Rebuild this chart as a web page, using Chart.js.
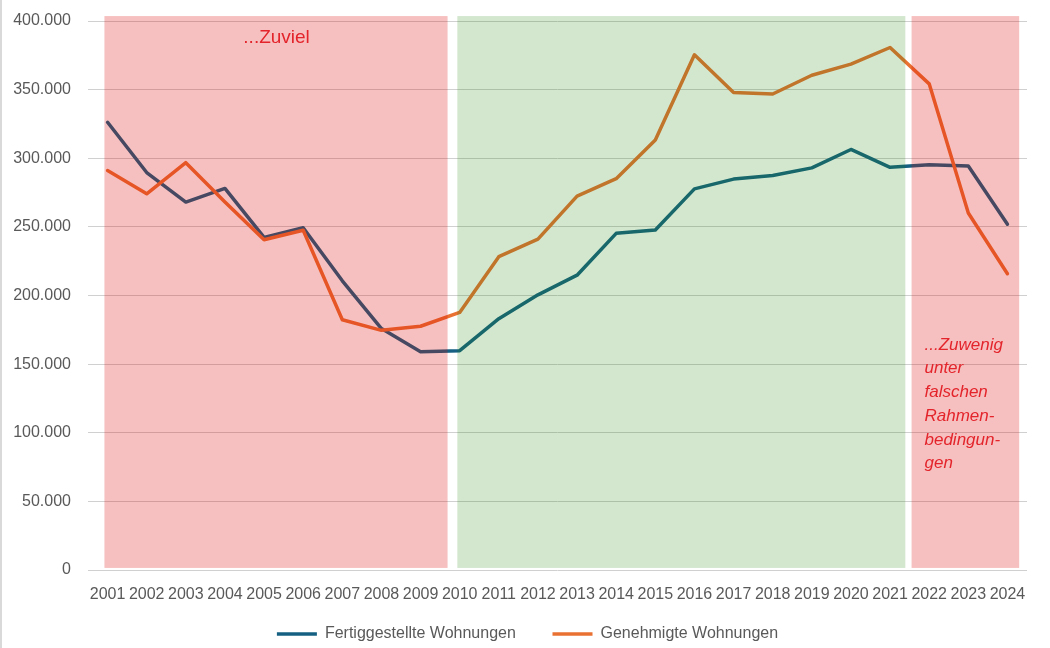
<!DOCTYPE html>
<html>
<head>
<meta charset="utf-8">
<script src="https://cdn.jsdelivr.net/npm/chart.js@4/dist/chart.umd.min.js"></script>
<style>
  html, body { margin: 0; padding: 0; background: #fff; }
  #wrap { width: 1050px; height: 648px; }
</style>
</head>
<body>
<div id="wrap"><canvas id="wohnChart"></canvas></div>
<script>
// Daten (Wohnungen pro Jahr)
var years          = ['2001','2002','2003','2004','2005','2006','2007','2008','2009','2010','2011','2012',
                      '2013','2014','2015','2016','2017','2018','2019','2020','2021','2022','2023','2024'];
var fertiggestellt = [326200, 289600, 268100, 278000, 242300, 249400, 210700, 175900, 159000, 159800, 183100, 200500,
                      214800, 245300, 247700, 277700, 284800, 287400, 293000, 306400, 293400, 295300, 294400, 251900];
var genehmigt      = [291000, 274100, 296800, 268100, 240600, 247500, 182300, 174600, 177600, 187700, 228300, 241100,
                      272400, 285100, 313300, 375400, 347900, 346800, 360500, 368600, 380700, 354200, 260100, 215900];

// Phasen-Hintergrund (Kategorie-Index, Bruchteile erlaubt)
var phaseFrom  = [-0.08, 8.94, 20.55];
var phaseTo    = [8.69, 20.39, 23.30];
var phaseColor = ['rgba(223,3,3,0.25)', 'rgba(35,135,15,0.2)', 'rgba(223,3,3,0.25)'];
var phaseTop = 403600, phaseBottom = 1500;

var fmt = function(v) {
    return String(v).replace(/\B(?=(\d{3})+(?!\d))/g, '.');
};

Chart.defaults.font.family = "'Liberation Sans', Arial, sans-serif";
Chart.defaults.color = '#595959';

var phasen = {
    id: 'phasen',
    afterLayout: function(chart) {
        // Legende etwas nach rechts/unten, wie im Original
        chart.legend.left += 28;
        chart.legend.top += 4;
        chart.legend.bottom += 4;
    },
    beforeDraw: function(chart) {
        var ctx = chart.ctx;
        ctx.save();
        ctx.fillStyle = '#d9d9d9';
        ctx.fillRect(0, 0, 2, chart.height);
        ctx.restore();
    },
    afterDatasetsDraw: function(chart) {
        var ctx = chart.ctx, x = chart.scales.x, y = chart.scales.y;
        var top = y.getPixelForValue(phaseTop), bottom = y.getPixelForValue(phaseBottom);
        ctx.save();
        phaseFrom.forEach(function(f, i) {
            var l = x.getPixelForValue(f), r = x.getPixelForValue(phaseTo[i]);
            ctx.fillStyle = phaseColor[i];
            ctx.fillRect(l, top, r - l, bottom - top);
        });
        ctx.restore();
    },
    afterDraw: function(chart) {
        var ctx = chart.ctx, x = chart.scales.x, y = chart.scales.y;
        ctx.save();
        ctx.fillStyle = '#e3242b';
        ctx.textBaseline = 'middle';
        ctx.textAlign = 'center';
        ctx.font = "19px 'Liberation Sans', Arial, sans-serif";
        ctx.fillText('...Zuviel', x.getPixelForValue(4.32), y.getPixelForValue(387600));

        ctx.textAlign = 'left';
        ctx.font = "italic 17px 'Liberation Sans', Arial, sans-serif";
        var lines = ['...Zuwenig', 'unter', 'falschen', 'Rahmen-', 'bedingun-', 'gen'];
        var lx = x.getPixelForValue(20.88), ly = y.getPixelForValue(163900);
        lines.forEach(function(t, i) {
            ctx.fillText(t, lx, ly + i * 23.7);
        });
        ctx.restore();
    }
};

var wohnChart = new Chart(document.getElementById('wohnChart'), {
    type: 'line',
    data: {
        labels: years,
        datasets: [{
            label: 'Fertiggestellte Wohnungen',
            data: fertiggestellt,
            borderColor: '#156082',
            backgroundColor: '#156082',
            borderWidth: 3.5,
            pointRadius: 0,
            borderJoinStyle: 'round',
            borderCapStyle: 'round',
            order: 1
        }, {
            label: 'Genehmigte Wohnungen',
            data: genehmigt,
            borderColor: '#E97132',
            backgroundColor: '#E97132',
            borderWidth: 3.5,
            pointRadius: 0,
            borderJoinStyle: 'round',
            borderCapStyle: 'round',
            order: 0
        }]
    },
    options: {
        responsive: true,
        maintainAspectRatio: false,
        animation: false,
        layout: {
            padding: { top: 21, right: 23, left: 0, bottom: 0 }
        },
        plugins: {
            legend: {
                position: 'bottom',
                labels: {
                    usePointStyle: true,
                    pointStyle: 'line',
                    pointStyleWidth: 40,
                    boxHeight: 8,
                    padding: 10,
                    color: '#595959',
                    font: { size: 16, lineHeight: 0.75 },
                    sort: function(a, b) { return a.datasetIndex - b.datasetIndex; },
                    generateLabels: function(chart) {
                        var items = Chart.defaults.plugins.legend.labels.generateLabels(chart);
                        items.forEach(function(it) {
                            if (it.datasetIndex === 0) it.text = it.text + '      ';
                        });
                        return items;
                    }
                }
            },
            tooltip: { enabled: false }
        },
        scales: {
            x: {
                offset: true,
                grid: { display: false, drawTicks: false },
                border: { display: false },
                ticks: { padding: 15, maxRotation: 0, autoSkip: false, font: { size: 16 }, color: '#595959' },
                afterFit: function(scale) { scale.height = 42; }
            },
            y: {
                min: 0,
                max: 400000,
                ticks: {
                    stepSize: 50000,
                    padding: 17,
                    font: { size: 16 },
                    color: '#595959',
                    callback: function(v) { return fmt(v); }
                },
                grid: { color: '#d0d0d0', lineWidth: 1, drawTicks: false },
                border: { display: false },
                afterFit: function(scale) {
                    scale.width = 88;
                    scale.paddingTop = 0;
                    scale.paddingBottom = 0;
                }
            }
        }
    },
    plugins: [phasen]
});
</script>
</body>
</html>
